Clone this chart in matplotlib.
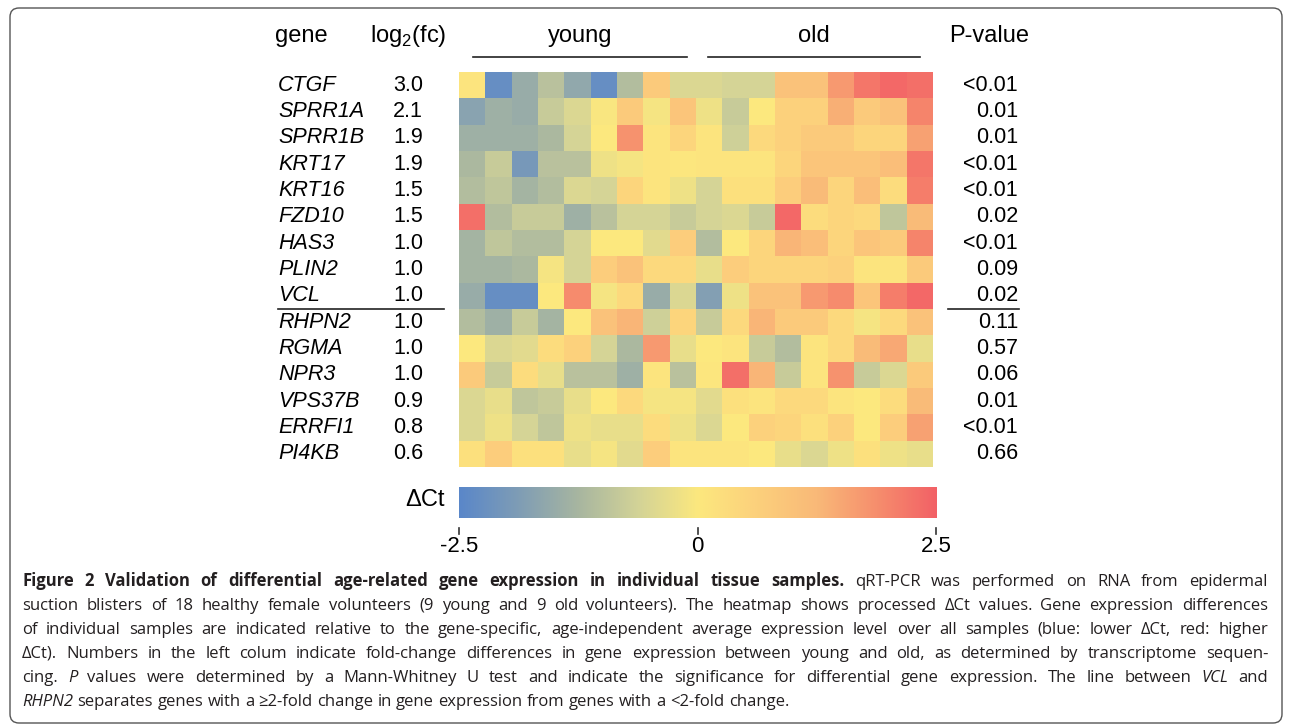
import numpy as np
import matplotlib
matplotlib.use("Agg")
import matplotlib.pyplot as plt
from matplotlib.colors import LinearSegmentedColormap
from matplotlib.patches import FancyBboxPatch

plt.rcParams['font.family'] = ['Liberation Sans', 'DejaVu Sans']
plt.rcParams['mathtext.fontset'] = 'custom'
plt.rcParams['mathtext.rm'] = 'Liberation Sans'

genes = ["CTGF", "SPRR1A", "SPRR1B", "KRT17", "KRT16", "FZD10", "HAS3", "PLIN2",
         "VCL", "RHPN2", "RGMA", "NPR3", "VPS37B", "ERRFI1", "PI4KB"]
log2fc = ["3.0", "2.1", "1.9", "1.9", "1.5", "1.5", "1.0", "1.0", "1.0",
          "1.0", "1.0", "1.0", "0.9", "0.8", "0.6"]
pvals = ["<0.01", "0.01", "0.01", "<0.01", "<0.01", "0.02", "<0.01", "0.09", "0.02",
         "0.11", "0.57", "0.06", "0.01", "<0.01", "0.66"]

# delta Ct per sample: 9 young then 9 old
dct = [
    [0.1, -2.3, -1.5, -1.0, -1.6, -2.3, -1.1, 0.8, -0.5, -0.5, -0.6, -0.6, 1.0, 1.0, 1.7, 2.2, 2.4, 2.3],
    [-1.7, -1.4, -1.5, -0.8, -0.5, -0.05, 0.8, -0.1, 0.9, -0.2, -0.8, 0.0, 0.6, 0.6, 1.4, 0.8, 1.0, 2.0],
    [-1.4, -1.4, -1.4, -1.2, -0.6, 0.0, 1.8, 0.1, 0.5, 0.1, -0.7, 0.4, 0.6, 0.8, 0.8, 0.5, 0.5, 1.6],
    [-1.2, -0.8, -2.0, -1.0, -1.0, -0.2, -0.1, 0.1, 0.05, 0.1, 0.1, 0.1, 0.5, 0.9, 0.9, 0.9, 1.1, 2.2],
    [-1.1, -0.9, -1.3, -1.1, -0.5, -0.6, 0.5, 0.1, -0.2, -0.6, 0.2, 0.2, 0.7, 1.2, 0.5, 1.1, 0.3, 2.1],
    [2.3, -1.1, -0.8, -0.8, -1.4, -1.0, -0.6, -0.6, -0.8, -0.6, -0.5, -0.8, 2.4, 0.3, 0.5, 0.4, -0.9, 1.2],
    [-1.3, -0.9, -1.1, -1.1, -0.6, 0.0, 0.0, -0.4, 0.7, -1.1, 0.0, 0.5, 1.3, 1.1, 0.5, 0.9, 0.8, 2.0],
    [-1.3, -1.3, -1.2, -0.1, -0.6, 0.7, 1.0, 0.4, 0.4, -0.3, 0.7, 0.5, 0.5, 0.5, 0.6, 0.1, 0.1, 0.8],
    [-1.5, -2.3, -2.3, 0.0, 1.9, -0.1, 0.4, -1.5, -0.5, -1.8, -0.2, 1.0, 1.0, 1.7, 1.9, 0.9, 2.1, 2.4],
    [-1.1, -1.4, -0.8, -1.3, 0.0, 1.0, 1.3, -0.7, 0.5, -0.8, 0.4, 1.3, 0.8, 0.8, 0.4, -0.1, 0.4, 1.0],
    [0.0, -0.5, -0.4, 0.3, 0.6, -0.6, -1.2, 1.7, -0.3, 0.0, 0.1, -0.8, -1.1, 0.1, 0.4, 1.2, 1.5, -0.3],
    [0.8, -0.8, 0.3, -0.3, -1.0, -1.0, -1.4, 0.1, -1.0, 0.05, 2.3, 1.3, -0.8, 0.1, 1.8, -0.8, -0.5, 0.8],
    [-0.5, -0.3, -0.9, -0.8, -0.3, 0.0, 0.4, -0.1, -0.1, -0.4, 0.2, 0.1, 0.4, 0.4, 0.1, 0.0, 0.3, 1.2],
    [-0.5, -0.2, -0.6, -0.9, -0.2, -0.3, -0.3, 0.3, -0.2, -0.5, 0.0, 0.6, 0.5, 0.2, 0.6, 0.0, 0.7, 1.6],
    [0.2, 0.7, 0.2, 0.2, -0.3, -0.1, -0.4, 0.7, 0.1, 0.1, 0.1, 0.0, -0.3, -0.5, -0.2, 0.2, -0.2, -0.3],
]
groups = ["young", "old"]
cbar_ticks = [-2.5, 0, 2.5]

W, H = 1290, 727
cmap = LinearSegmentedColormap.from_list(
    "bgyr", ["#5a87c9", "#7f9db5", "#a8b6a0", "#d3d397", "#fce87e",
             "#fcd07c", "#f9b978", "#f68e6d", "#f26166"])

fig = plt.figure(figsize=(W / 100, H / 100), dpi=100)
ov = fig.add_axes([0, 0, 1, 1])
ov.set_xlim(0, W)
ov.set_ylim(H, 0)
ov.axis("off")

# heatmap
hx0, hx1, hy0, hy1 = 459, 933, 72, 467
ax = fig.add_axes([hx0 / W, 1 - hy1 / H, (hx1 - hx0) / W, (hy1 - hy0) / H])
data = np.array(dct)
ax.pcolormesh(data, cmap=cmap, vmin=-2.5, vmax=2.5)
ax.set_xlim(0, data.shape[1])
ax.set_ylim(data.shape[0], 0)
ax.axis("off")

cell = (hy1 - hy0) / len(genes)
fs = 15.5
for i, g in enumerate(genes):
    yc = hy0 + (i + 0.5) * cell
    ov.text(278, yc, g, style="italic", fontsize=fs, va="center", ha="left")
    ov.text(408, yc, log2fc[i], fontsize=fs, va="center", ha="center")
    ov.text(1018, yc, pvals[i], fontsize=fs, va="center", ha="right")

# separator between VCL and RHPN2
ysep = hy0 + 9 * cell
ov.plot([278, 444], [ysep, ysep], color="#222222", lw=1.2)
ov.plot([948, 1019], [ysep, ysep], color="#222222", lw=1.2)

# headers
hfs = 17
ov.text(275, 36, "gene", fontsize=hfs, va="center", ha="left")
ov.text(370, 36, r"log$_{\mathregular{2}}$(fc)", fontsize=hfs, va="center", ha="left")
ov.text(1029, 36, "P-value", fontsize=hfs, va="center", ha="right")
for (x0, x1), lab in zip([(473, 687), (708, 920)], groups):
    ov.text((x0 + x1) / 2, 36, lab, fontsize=hfs, va="center", ha="center")
    ov.plot([x0, x1], [57, 57], color="#222222", lw=1.2)

# colorbar
cx0, cx1, cy0, cy1 = 459, 936, 487, 518
cax = fig.add_axes([cx0 / W, 1 - cy1 / H, (cx1 - cx0) / W, (cy1 - cy0) / H])
grad = np.linspace(-2.5, 2.5, 256)[None, :]
cax.imshow(grad, aspect="auto", cmap=cmap, vmin=-2.5, vmax=2.5,
           extent=[-2.5, 2.5, 0, 1])
cax.axis("off")
ov.text(425, 500, "\u0394Ct", fontsize=hfs, va="center", ha="center")
for t in cbar_ticks:
    xt = cx0 + (t + 2.5) / 5 * (cx1 - cx0)
    ov.plot([xt, xt], [528, 534], color="#333333", lw=1.2)
    ov.text(xt, 546, ("%g" % t), fontsize=16, va="center", ha="center")

# frame
ov.add_patch(FancyBboxPatch((10, 8), 1272, 715, boxstyle="round,pad=0,rounding_size=9",
                            fill=False, ec="#555555", lw=1.0))

# caption, justified
cap_lines = [
    [("Figure 2 Validation of differential age-related gene expression in individual tissue samples.", "b"),
     ("qRT-PCR was performed on RNA from epidermal", "n")],
    [("suction blisters of 18 healthy female volunteers (9 young and 9 old volunteers). The heatmap shows processed \u0394Ct values. Gene expression differences", "n")],
    [("of individual samples are indicated relative to the gene-specific, age-independent average expression level over all samples (blue: lower \u0394Ct, red: higher", "n")],
    [("\u0394Ct). Numbers in the left colum indicate fold-change differences in gene expression between young and old, as determined by transcriptome sequen-", "n")],
    [("cing.", "n"), ("P", "i"), ("values were determined by a Mann-Whitney U test and indicate the significance for differential gene expression. The line between", "n"),
     ("VCL", "i"), ("and", "n")],
    [("RHPN2", "i"), ("separates genes with a \u22652-fold change in gene expression from genes with a <2-fold change.", "n")],
]
cfont = ['Open Sans', 'DejaVu Sans']
cfs = 12
renderer = fig.canvas.get_renderer()
left, right = 22, 1268
for li, line in enumerate(cap_lines):
    y = 586 + li * 24
    words = []
    for txt, st in line:
        for w in txt.split(" "):
            words.append((w, st))
    arts = []
    for w, st in words:
        kw = dict(fontsize=cfs, family=cfont, va="baseline", ha="left", color="#231f20")
        if st == "b":
            kw["fontweight"] = "bold"
        if st == "i":
            kw["style"] = "italic"
        arts.append(ov.text(0, y, w, **kw))
    widths = [a.get_window_extent(renderer).width for a in arts]
    sp = ov.text(0, y, "a a", fontsize=cfs, family=cfont)
    spw = sp.get_window_extent(renderer).width
    sp2 = ov.text(0, y, "aa", fontsize=cfs, family=cfont)
    spw -= sp2.get_window_extent(renderer).width
    sp.remove()
    sp2.remove()
    if li < len(cap_lines) - 1 and len(words) > 1:
        gap = (right - left - sum(widths)) / (len(words) - 1)
    else:
        gap = spw
    x = left
    for a, wd in zip(arts, widths):
        a.set_x(x)
        x += wd + gap

fig.savefig("out.png", dpi=100)
